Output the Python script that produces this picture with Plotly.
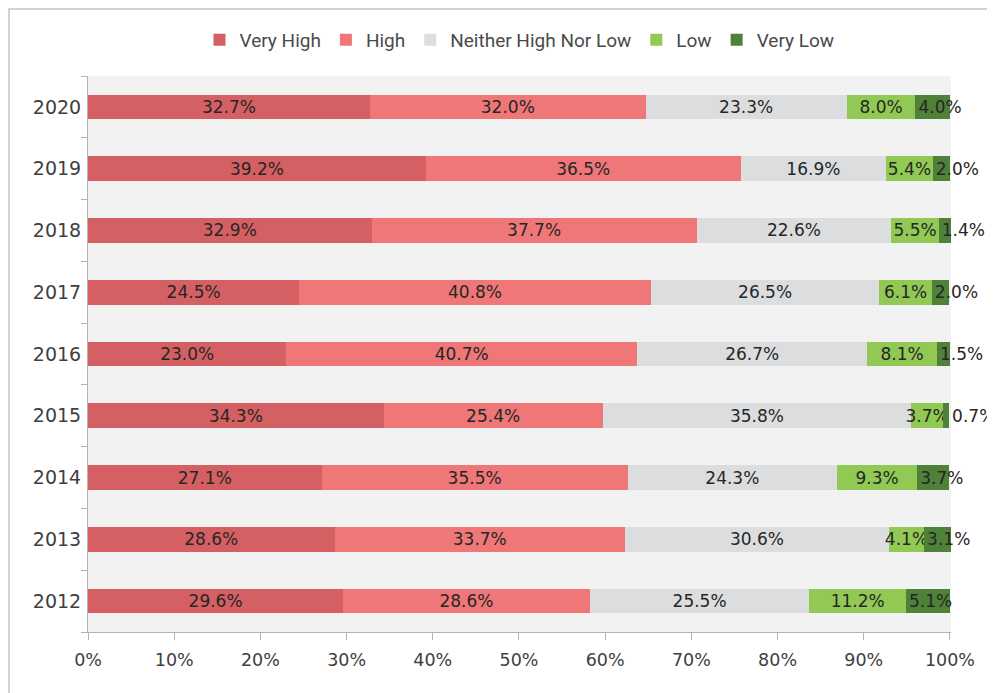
import plotly.graph_objects as go

years = ["2012", "2013", "2014", "2015", "2016", "2017", "2018", "2019", "2020"]
series_names = ["Very High", "High", "Neither High Nor Low", "Low", "Very Low"]
very_high = [29.6, 28.6, 27.1, 34.3, 23.0, 24.5, 32.9, 39.2, 32.7]
high = [28.6, 33.7, 35.5, 25.4, 40.7, 40.8, 37.7, 36.5, 32.0]
neither = [25.5, 30.6, 24.3, 35.8, 26.7, 26.5, 22.6, 16.9, 23.3]
low = [11.2, 4.1, 9.3, 3.7, 8.1, 6.1, 5.5, 5.4, 8.0]
very_low = [5.1, 3.1, 3.7, 0.7, 1.5, 2.0, 1.4, 2.0, 4.0]
x_ticks = [0, 10, 20, 30, 40, 50, 60, 70, 80, 90, 100]
x_tick_labels = [f"{v}%" for v in x_ticks]

series_values = [very_high, high, neither, low, very_low]
colors = ["#d46063", "#f07778", "#dcdddf", "#92c854", "#4f8139"]
anchors = ["middle", "middle", "middle", "middle", "start"]

# page body has an 8px margin; compensate so plot area lands at x 88..951, y 76..632
OFF = 8
W, H = 995 - OFF, 693 - OFF
L, R, T, B = 88 - OFF, 44, 76 - OFF, 61
pw, ph = W - L - R, H - T - B

fig = go.Figure()
for name, vals, col, anc in zip(series_names, series_values, colors, anchors):
    positions = ["inside"] * len(vals)
    if name == "Very Low":
        positions = ["outside" if v < 1 else "inside" for v in vals]
    fig.add_trace(go.Bar(
        y=years, x=vals, name=name, orientation="h",
        marker=dict(color=col, line=dict(width=0)),
        texttemplate="%{x:.1f}%",
        textposition=positions,
        insidetextanchor=anc,
        textangle=0,
        constraintext="none",
        cliponaxis=False,
        textfont=dict(family="DejaVu Sans", size=17, color="#262626"),
        insidetextfont=dict(family="DejaVu Sans", size=17, color="#262626"),
        outsidetextfont=dict(family="DejaVu Sans", size=17, color="#262626"),
        hoverinfo="skip",
    ))

fig.update_layout(
    barmode="stack",
    bargap=0.6,
    width=W, height=H,
    margin=dict(l=L, r=R, t=T, b=B, pad=0),
    paper_bgcolor="white",
    plot_bgcolor="#f2f2f2",
    showlegend=True,
    legend=dict(
        orientation="h", x=0.5, xanchor="center",
        y=(ph + T - (40 - OFF)) / ph, yanchor="middle",
        font=dict(family="Roboto", size=19, color="#4a4a4a"),
        itemwidth=30, traceorder="normal",
        bgcolor="rgba(0,0,0,0)",
    ),
    xaxis=dict(
        range=[0, 100.12], tickvals=x_ticks, ticktext=x_tick_labels,
        showgrid=False, zeroline=False,
        showline=True, linecolor="#b4b4b4", linewidth=1,
        ticks="outside", ticklen=7, tickcolor="#b4b4b4",
        tickfont=dict(family="DejaVu Sans", size=17.5, color="#404040"),
        ticklabelstandoff=5,
        fixedrange=True,
    ),
    yaxis=dict(
        type="category", categoryorder="array", categoryarray=years,
        showgrid=False, zeroline=False,
        showline=True, linecolor="#b4b4b4", linewidth=1,
        ticks="outside", ticklen=6, tickcolor="#b4b4b4", tickson="boundaries",
        tickfont=dict(family="DejaVu Sans", size=19, color="#404040"),
        ticklabelstandoff=2,
        fixedrange=True,
    ),
    shapes=[dict(
        type="rect", xref="paper", yref="paper",
        x0=(1 - L) / pw, x1=(W + 20 - L) / pw,
        y0=-(B + 20) / ph, y1=(ph + T - 1) / ph,
        line=dict(color="#c4c4c4", width=1.5), fillcolor="rgba(0,0,0,0)",
        layer="above",
    )],
)

fig.write_html("out.html")
